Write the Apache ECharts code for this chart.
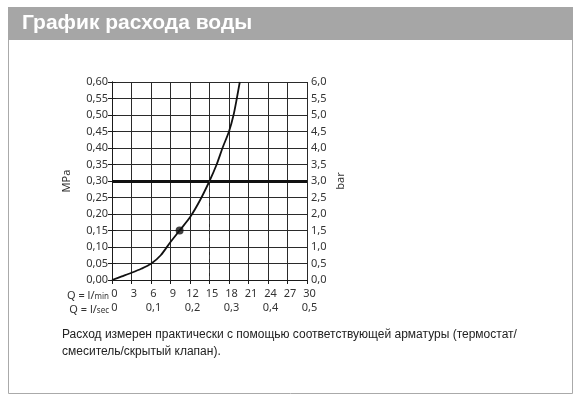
<!DOCTYPE html>
<html>
<head>
<meta charset="utf-8">
<script src="https://cdn.jsdelivr.net/npm/echarts@6/dist/echarts.min.js"></script>
<style>
    html, body { margin: 0; padding: 0; background: #fff; }
    #chart { width: 581px; height: 401px; }
</style>
</head>
<body>
<div id="chart"></div>
<script>
// расход, л/мин
var flowLpm = [0, 1.5, 3, 4.5, 6, 7.5, 9, 10.4, 12, 13.5, 15, 16.1, 17, 18, 18.7, 19.2, 19.66];
// давление, МПа
var pressureMPa = [0, 0.011, 0.022, 0.034, 0.049, 0.075, 0.115, 0.15, 0.19, 0.24, 0.30, 0.35, 0.40, 0.45, 0.50, 0.55, 0.60];
// рабочая точка
var pointFlow = [10.4];
var pointPressure = [0.15];
// опорная линия 0,3 МПа и 15 л/мин
var refPressure = 0.30;
var refFlow = 15;

var titleText = 'График расхода воды';
var noteLines = [
    'Расход измерен практически с помощью соответствующей арматуры (термостат/',
    'смеситель/скрытый клапан).'
];

var labelFont = 'Noto Sans';
var labelColor = '#333';

function comma(v, d) {
    return v.toFixed(d).replace('.', ',');
}

var curve = [];
for (var i = 0; i < flowLpm.length; i++) {
    curve.push([flowLpm[i], pressureMPa[i]]);
}
var points = [];
for (var j = 0; j < pointFlow.length; j++) {
    points.push([pointFlow[j], pointPressure[j]]);
}

var myChart = echarts.init(document.getElementById('chart'), null, { renderer: 'canvas' });
var option = {
    backgroundColor: '#fff',
    animation: false,
    grid: { left: 112, right: 274, top: 82, bottom: 121 },
    graphic: [
        {
            type: 'rect', z: -10,
            shape: { x: 8.5, y: 7.5, width: 564, height: 386 },
            style: { fill: '#fff', stroke: '#aaa', lineWidth: 1 }
        },
        {
            type: 'rect', z: -9,
            shape: { x: 8, y: 7, width: 565, height: 33 },
            style: { fill: '#a6a6a6' }
        },
        {
            type: 'text', left: 22, top: 13,
            style: { text: titleText, fill: '#fff', font: 'bold 21px "Liberation Sans", Arial, sans-serif' }
        },
        {
            type: 'text', left: 62, top: 326,
            style: { text: noteLines.join('\n'), fill: '#222', lineHeight: 17, font: '12px "Liberation Sans", Arial, sans-serif' }
        },
        {
            type: 'text', right: 472, top: 290,
            style: {
                text: 'Q = l/{s|min}',
                fill: labelColor, font: '11px "' + labelFont + '"',
                rich: { s: { fontSize: 8, fontFamily: labelFont, fill: labelColor, padding: [2, 0, 0, 0] } }
            }
        },
        {
            type: 'text', right: 472, top: 304,
            style: {
                text: 'Q = l/{s|sec}',
                fill: labelColor, font: '11px "' + labelFont + '"',
                rich: { s: { fontSize: 8, fontFamily: labelFont, fill: labelColor, padding: [2, 0, 0, 0] } }
            }
        }
    ],
    xAxis: [
        {
            type: 'value', position: 'bottom',
            min: 0, max: 30, interval: 3,
            axisLine: { lineStyle: { color: '#1a1a1a', width: 1 } },
            axisTick: { show: true, length: 4, lineStyle: { color: '#1a1a1a' } },
            axisLabel: { margin: 8, color: labelColor, fontFamily: labelFont, fontSize: 11, padding: [0, 0, 0, 5] },
            splitLine: { show: true, lineStyle: { color: '#2a2a2a', width: 1 } }
        },
        {
            type: 'value', position: 'bottom', offset: 14,
            min: 0, max: 0.5, interval: 0.1,
            axisLine: { show: false },
            axisTick: { show: false },
            axisLabel: {
                margin: 8, color: labelColor, fontFamily: labelFont, fontSize: 11, padding: [0, 0, 0, 5],
                formatter: function (v) { return v === 0 ? '0' : comma(v, 1); }
            },
            splitLine: { show: false }
        }
    ],
    yAxis: [
        {
            type: 'value', position: 'left',
            min: 0, max: 0.6, interval: 0.05,
            name: 'MPa', nameLocation: 'middle', nameGap: 40, nameRotate: 90,
            nameTextStyle: { color: labelColor, fontFamily: labelFont, fontSize: 11 },
            axisLine: { show: true, lineStyle: { color: '#1a1a1a', width: 1 } },
            axisTick: { show: true, length: 4, lineStyle: { color: '#1a1a1a' } },
            axisLabel: {
                margin: 4, color: labelColor, fontFamily: labelFont, fontSize: 11,
                formatter: function (v) { return comma(v, 2); }
            },
            splitLine: { show: true, lineStyle: { color: '#2a2a2a', width: 1 } }
        },
        {
            type: 'value', position: 'right',
            min: 0, max: 6, interval: 0.5,
            name: 'bar', nameLocation: 'middle', nameGap: 28, nameRotate: 90,
            nameTextStyle: { color: labelColor, fontFamily: labelFont, fontSize: 11 },
            axisLine: { show: true, lineStyle: { color: '#1a1a1a', width: 1 } },
            axisTick: { show: true, length: 4, lineStyle: { color: '#1a1a1a' } },
            axisLabel: {
                margin: 4, color: labelColor, fontFamily: labelFont, fontSize: 11,
                formatter: function (v) { return comma(v, 1); }
            },
            splitLine: { show: false }
        }
    ],
    series: [
        {
            type: 'line',
            xAxisIndex: 0, yAxisIndex: 0,
            data: curve,
            smooth: 0.25,
            showSymbol: false,
            lineStyle: { color: '#111', width: 1.8 },
            markLine: {
                silent: true,
                symbol: 'none',
                label: { show: false },
                data: [
                    { yAxis: refPressure, lineStyle: { color: '#111', width: 3, type: 'solid' } },
                    [
                        { coord: [refFlow, 0], lineStyle: { color: '#444', width: 1, type: [4, 3] } },
                        { coord: [refFlow, refPressure] }
                    ]
                ]
            }
        },
        {
            type: 'scatter',
            xAxisIndex: 0, yAxisIndex: 0,
            data: points,
            symbolSize: 8,
            itemStyle: { color: '#111' },
            z: 5
        }
    ]
};
myChart.setOption(option);
</script>
</body>
</html>
